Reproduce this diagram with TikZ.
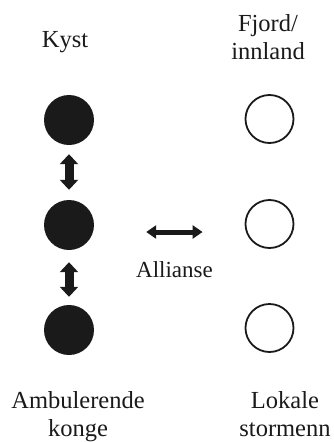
\documentclass[tikz,border=0pt]{standalone}
\usepackage{fontspec}
\setmainfont{Liberation Serif}
\usetikzlibrary{arrows.meta}
\definecolor{ink}{HTML}{1A1A1A}
\begin{document}
\begin{tikzpicture}[x=1pt,y=-1pt,
  lbl/.style={font=\fontsize{24.5}{28}\selectfont, align=center, inner sep=0pt, text=ink},
  king/.style={circle, fill=ink, minimum size=50pt, inner sep=0pt},
  lord/.style={circle, draw=ink, line width=1.8pt, minimum size=48pt, inner sep=0pt},
  vlink/.style={line width=9pt, draw=ink, {Triangle[width=18pt,length=10pt]}-{Triangle[width=18pt,length=10pt]}},
  hlink/.style={line width=5pt, draw=ink, {Triangle[width=13pt,length=10pt]}-{Triangle[width=13pt,length=10pt]}}]
\useasboundingbox (0,0) rectangle (334,442);
\node[king] (k1) at (69,120) {};
\node[king] (k2) at (69,225) {};
\node[king] (k3) at (69,330) {};
\node[lord] (o1) at (269.5,119) {};
\node[lord] (o2) at (269.5,224) {};
\node[lord] (o3) at (269.5,328) {};
\draw[vlink, shorten <=9pt, shorten >=10pt] (k1.south) -- (k2.north);
\draw[vlink, shorten <=12pt, shorten >=8pt] (k2.south) -- (k3.north);
\draw[hlink, shorten <=52pt, shorten >=42pt] (k2.east |- 0,232) -- (o2.west |- 0,232);
\node[lbl, anchor=base] (kyst) at (65,47) {Kyst};
\node[lbl, anchor=base] (fjord) at (268,59) {Fjord/\\innland};
\node[lbl, anchor=base, font=\fontsize{23}{28}\selectfont] (all) at (174.5,277) {Allianse};
\node[lbl, anchor=base] (amb) at (78,436) {Ambulerende\\konge};
\node[lbl, anchor=base] (lok) at (285,436) {Lokale\\stormenn};
\end{tikzpicture}
\end{document}
